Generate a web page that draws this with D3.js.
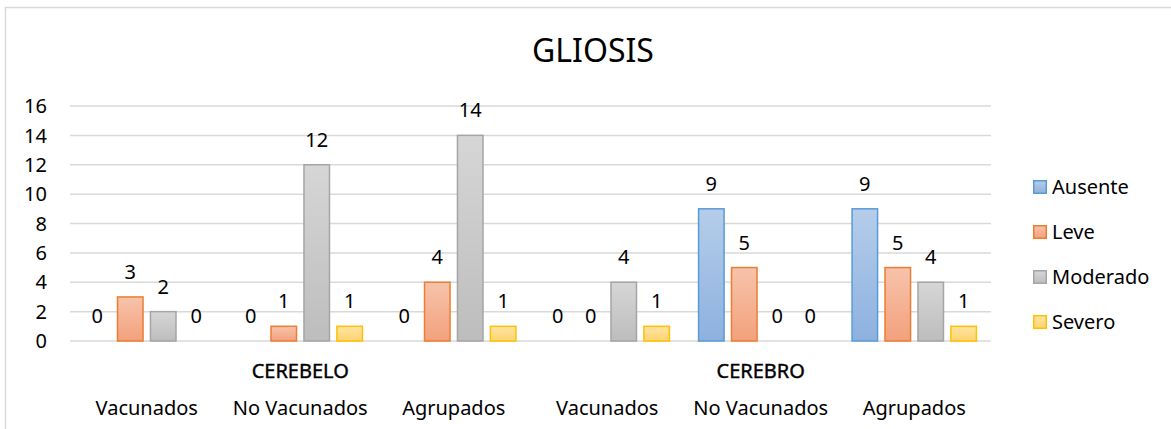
<!DOCTYPE html>
<html lang="es">
<head>
    <meta charset="UTF-8">
    <title>GLIOSIS</title>
    <script src="https://d3js.org/d3.v7.min.js"></script>
    <style>
        body {
            margin: 0;
            padding: 0;
            background: #fff;
        }
        svg {
            display: block;
            font-family: "Noto Sans", sans-serif;
        }
        .grid line {
            stroke: #d9d9d9;
            stroke-width: 1.5px;
        }
        .tick-label, .data-label, .cat-label, .legend-label {
            fill: #000;
        }
    </style>
</head>
<body>
    <svg id="chart" width="1171" height="429"></svg>

    <script>
        // Datos
        const regions = ["CEREBELO", "CEREBRO"];
        const groups = ["Vacunados", "No Vacunados", "Agrupados"];
        const series = ["Ausente", "Leve", "Moderado", "Severo"];

        const ausente  = [0, 0, 0, 0, 9, 9];
        const leve     = [3, 1, 4, 0, 5, 5];
        const moderado = [2, 12, 14, 4, 0, 4];
        const severo   = [0, 1, 1, 1, 0, 1];

        const yTicks = [0, 2, 4, 6, 8, 10, 12, 14, 16];

        const values = [ausente, leve, moderado, severo];
        const colors = {
            Ausente:  { top: "#b5cdea", bottom: "#8db1df", stroke: "#5b9bd5" },
            Leve:     { top: "#f7c3ab", bottom: "#f3a17c", stroke: "#ed7d31" },
            Moderado: { top: "#d6d6d6", bottom: "#bdbdbd", stroke: "#a5a5a5" },
            Severo:   { top: "#ffe4a6", bottom: "#ffd46f", stroke: "#ffc000" }
        };

        // categorías: región + grupo
        const cats = regions.flatMap(r => groups.map(g => ({ region: r, group: g, key: r + "|" + g })));

        const data = cats.map((c, i) => ({
            key: c.key,
            items: series.map((s, j) => ({ name: s, value: values[j][i] }))
        }));

        const svg = d3.select("#chart");

        // borde del gráfico
        svg.append("rect")
            .attr("x", 5.5).attr("y", 7.5)
            .attr("width", 1200).attr("height", 440)
            .attr("fill", "none")
            .attr("stroke", "#d9d9d9")
            .attr("stroke-width", 1.5);

        // gradientes
        const defs = svg.append("defs");
        series.forEach(s => {
            const g = defs.append("linearGradient")
                .attr("id", "grad-" + s)
                .attr("x1", 0).attr("y1", 0).attr("x2", 0).attr("y2", 1);
            g.append("stop").attr("offset", "0%").attr("stop-color", colors[s].top);
            g.append("stop").attr("offset", "100%").attr("stop-color", colors[s].bottom);
        });

        const plot = { left: 70, right: 991, top: 106, bottom: 341 };

        const x0 = d3.scaleBand()
            .domain(cats.map(c => c.key))
            .range([plot.left, plot.right])
            .paddingInner(0.18)
            .paddingOuter(0.09);

        const x1 = d3.scaleBand()
            .domain(series)
            .range([0, x0.bandwidth()])
            .paddingInner(0.18);

        const y = d3.scaleLinear()
            .domain([0, 16])
            .range([plot.bottom, plot.top]);

        // título
        svg.append("text")
            .attr("x", 593)
            .attr("y", 62)
            .attr("text-anchor", "middle")
            .attr("font-size", 32)
            .text("GLIOSIS");

        // rejilla
        svg.append("g")
            .attr("class", "grid")
            .selectAll("line")
            .data(yTicks)
            .join("line")
            .attr("x1", plot.left)
            .attr("x2", plot.right)
            .attr("y1", d => y(d))
            .attr("y2", d => y(d));

        // etiquetas eje Y
        svg.append("g")
            .selectAll("text")
            .data(yTicks)
            .join("text")
            .attr("class", "tick-label")
            .attr("x", 47)
            .attr("y", d => y(d))
            .attr("dy", "0.36em")
            .attr("text-anchor", "end")
            .attr("font-size", 20)
            .text(d => d);

        // barras
        const groupSel = svg.append("g")
            .selectAll("g")
            .data(data)
            .join("g")
            .attr("transform", d => `translate(${x0(d.key)},0)`);

        groupSel.selectAll("rect")
            .data(d => d.items.filter(it => it.value > 0))
            .join("rect")
            .attr("x", d => x1(d.name) + 0.75)
            .attr("y", d => y(d.value))
            .attr("width", x1.bandwidth() - 1.5)
            .attr("height", d => y(0) - y(d.value))
            .attr("fill", d => `url(#grad-${d.name})`)
            .attr("stroke", d => colors[d.name].stroke)
            .attr("stroke-width", 1.5);

        groupSel.selectAll("text")
            .data(d => d.items)
            .join("text")
            .attr("class", "data-label")
            .attr("x", d => x1(d.name) + x1.bandwidth() / 2)
            .attr("y", d => y(d.value) - 18)
            .attr("text-anchor", "middle")
            .attr("font-size", 20)
            .text(d => d.value);

        // etiquetas de categoría
        svg.append("g")
            .selectAll("text")
            .data(cats)
            .join("text")
            .attr("class", "cat-label")
            .attr("x", d => x0(d.key) + x0.bandwidth() / 2)
            .attr("y", 415)
            .attr("text-anchor", "middle")
            .attr("font-size", 20)
            .text(d => d.group);

        // etiquetas de región (centradas en el grupo del medio)
        svg.append("g")
            .selectAll("text")
            .data(regions)
            .join("text")
            .attr("x", r => {
                const mid = cats.filter(c => c.region === r)[1];
                return x0(mid.key) + x0.bandwidth() / 2;
            })
            .attr("y", 378)
            .attr("text-anchor", "middle")
            .attr("font-size", 20)
            .attr("stroke", "#000")
            .attr("stroke-width", 0.4)
            .text(r => r);

        // leyenda
        const legend = svg.append("g")
            .selectAll("g")
            .data(series)
            .join("g")
            .attr("transform", (d, i) => `translate(1033,${187 + i * 45})`);

        legend.append("rect")
            .attr("x", 0.75)
            .attr("y", -6.25)
            .attr("width", 12.5)
            .attr("height", 12.5)
            .attr("fill", d => `url(#grad-${d})`)
            .attr("stroke", d => colors[d].stroke)
            .attr("stroke-width", 1.5);

        legend.append("text")
            .attr("class", "legend-label")
            .attr("x", 19)
            .attr("dy", "0.36em")
            .attr("font-size", 20)
            .text(d => d);
    </script>
</body>
</html>
